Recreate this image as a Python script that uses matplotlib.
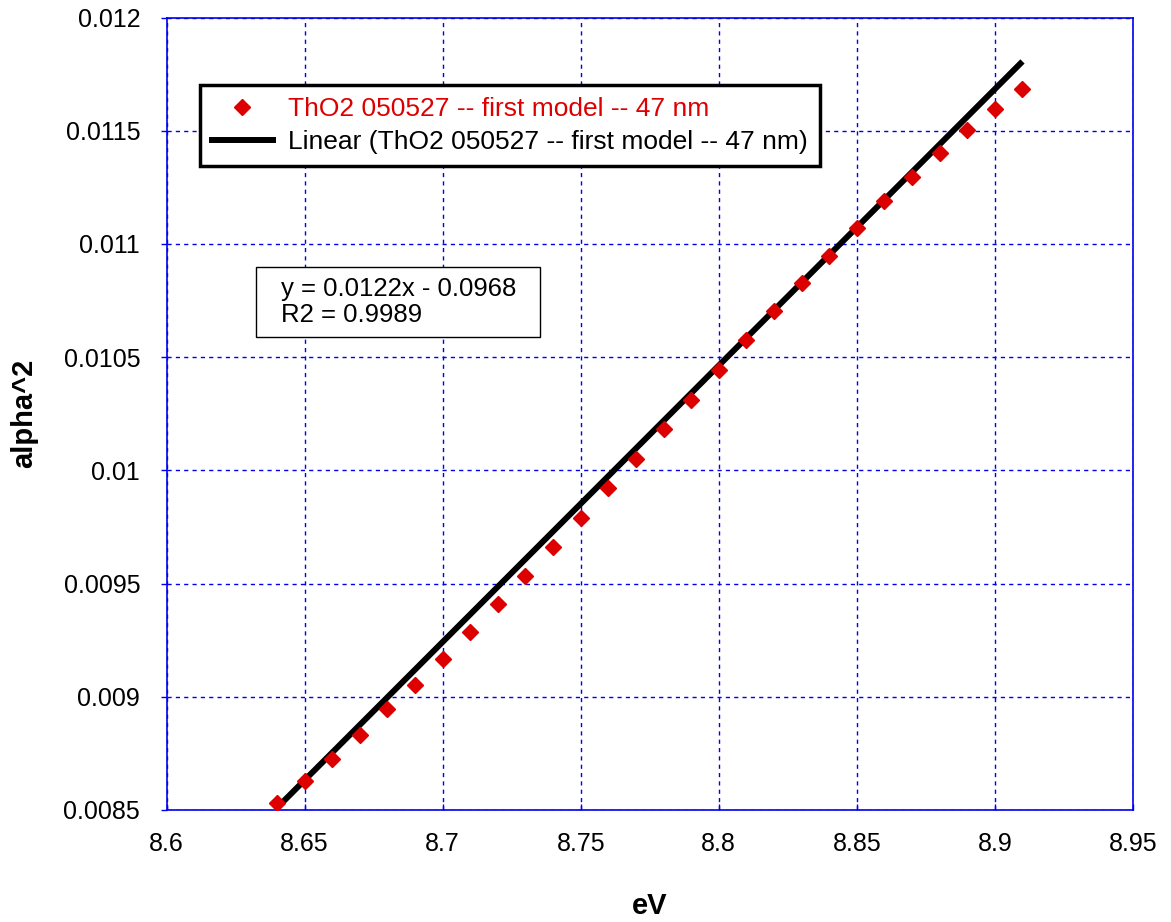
import numpy as np
import matplotlib.pyplot as plt
from matplotlib.lines import Line2D
from matplotlib.patches import Rectangle

plt.rcParams['font.family'] = ['Liberation Sans', 'DejaVu Sans']

# Data
ev = [8.64, 8.65, 8.66, 8.67, 8.68, 8.69, 8.70, 8.71, 8.72, 8.73,
      8.74, 8.75, 8.76, 8.77, 8.78, 8.79, 8.80, 8.81, 8.82, 8.83,
      8.84, 8.85, 8.86, 8.87, 8.88, 8.89, 8.90, 8.91]
alpha2 = [0.008531, 0.008628, 0.008725, 0.008830, 0.008944, 0.009052,
          0.009167, 0.009288, 0.009410, 0.009535, 0.009661, 0.009790,
          0.009920, 0.010050, 0.010182, 0.010312, 0.010444, 0.010575,
          0.010702, 0.010828, 0.010948, 0.011071, 0.011188, 0.011296,
          0.011402, 0.011504, 0.011597, 0.011686]

# Trendline (unrounded coefficients)
slope = 0.01221
intercept = -0.096985

series_label = "ThO2 050527 -- first model -- 47 nm"
fit_label = "Linear (ThO2 050527 -- first model -- 47 nm)"
eq_text = "y = 0.0122x - 0.0968\nR2 = 0.9989"

xticks = [8.6, 8.65, 8.7, 8.75, 8.8, 8.85, 8.9, 8.95]
yticks = [0.0085, 0.009, 0.0095, 0.01, 0.0105, 0.011, 0.0115, 0.012]
ytick_labels = ["0.0085", "0.009", "0.0095", "0.01", "0.0105", "0.011", "0.0115", "0.012"]

red = '#dd0000'
blue = '#0000ee'

fig = plt.figure(figsize=(11.71, 9.22), dpi=100)
ax = fig.add_axes([0.1422, 0.1215, 0.8253, 0.8595])

x_fit = np.array([ev[0], ev[-1]])
ax.plot(x_fit, slope * x_fit + intercept, color='black', lw=4.3,
        solid_capstyle='butt', zorder=3)
ax.plot(ev, alpha2, linestyle='none', marker='D', color=red,
        markersize=8, zorder=4)

ax.set_xlim(8.6, 8.95)
ax.set_ylim(0.0085, 0.012)
ax.set_xticks(xticks)
ax.set_xticklabels([f"{t:g}" for t in xticks])
ax.set_yticks(yticks)
ax.set_yticklabels(ytick_labels)
ax.tick_params(axis='both', labelsize=18, colors=blue, labelcolor='black',
               length=4, width=1)
ax.tick_params(axis='x', direction='in', pad=16)
ax.tick_params(axis='y', direction='out', pad=15)

for s in ax.spines.values():
    s.set_color(blue)
    s.set_linewidth(1.2)

ax.grid(True, color=blue, linestyle=(0, (3, 3)), linewidth=1)
ax.set_axisbelow(True)

ax.set_xlabel("eV", fontsize=21, fontweight='bold', labelpad=26)
ax.set_ylabel("alpha^2", fontsize=21, fontweight='bold', labelpad=18)

handles = [Line2D([], [], linestyle='none', marker='D', color=red, markersize=8),
           Line2D([], [], color='black', lw=4.3)]
leg = ax.legend(handles, [series_label, fit_label], loc='upper left',
                bbox_to_anchor=(0.0347, 0.915), borderaxespad=0, fontsize=19,
                fancybox=False, framealpha=1, edgecolor='black',
                handlelength=2.3, borderpad=0.45, labelspacing=0.35,
                handletextpad=0.6)
leg.get_frame().set_linewidth(2.5)
leg.get_texts()[0].set_color(red)

ax.add_patch(Rectangle((0.0926, 0.597), 0.294, 0.0883, transform=ax.transAxes,
                       facecolor='white', edgecolor='black', linewidth=1,
                       zorder=5))
ax.text(0.1185, 0.641, eq_text, transform=ax.transAxes, fontsize=18.5,
        va='center', ha='left', linespacing=1.1, zorder=6)

fig.savefig("out.png", dpi=100)
